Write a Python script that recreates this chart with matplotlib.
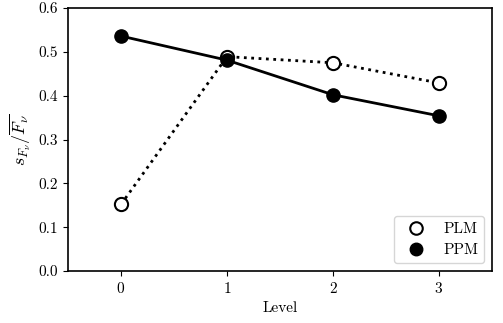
import matplotlib
matplotlib.use("Agg")
import matplotlib.pyplot as plt
from matplotlib.lines import Line2D

plt.rcParams['font.family'] = 'serif'
plt.rcParams['font.serif'] = ['cmr10']
plt.rcParams['mathtext.fontset'] = 'cm'
plt.rcParams['axes.formatter.use_mathtext'] = True
plt.rcParams['axes.unicode_minus'] = False

levels = [0, 1, 2, 3]
plm = [0.152, 0.489, 0.475, 0.429]
ppm = [0.536, 0.481, 0.402, 0.354]

fig = plt.figure(figsize=(5.03, 3.23), dpi=100)
ax = fig.add_axes([68 / 503, 52 / 323, 424 / 503, 263 / 323])

ax.plot(levels, plm, ':', color='k', lw=2, marker='o', ms=9.5,
        mfc='white', mec='k', mew=1.5)
ax.plot(levels, ppm, '-', color='k', lw=2, marker='o', ms=9.5,
        mfc='k', mec='k')

ax.set_xlim(-0.5, 3.5)
ax.set_ylim(0, 0.6)
ax.set_xticks(levels)
ax.set_yticks([0.0, 0.1, 0.2, 0.3, 0.4, 0.5, 0.6])
ax.set_yticklabels(['0.0', '0.1', '0.2', '0.3', '0.4', '0.5', '0.6'])
ax.tick_params(labelsize=11)
for s in ax.spines.values():
    s.set_linewidth(1.2)
ax.set_xlabel('Level', fontsize=11)
ax.set_ylabel(r'$s_{F_\nu}/\overline{F_\nu}$', fontsize=13)

handles = [
    Line2D([], [], ls='none', marker='o', ms=9, mfc='white', mec='k', mew=1.5),
    Line2D([], [], ls='none', marker='o', ms=9, mfc='k', mec='k'),
]
ax.legend(handles, ['PLM', 'PPM'], loc='lower right', fontsize=11)

fig.savefig('out.png', dpi=100)
